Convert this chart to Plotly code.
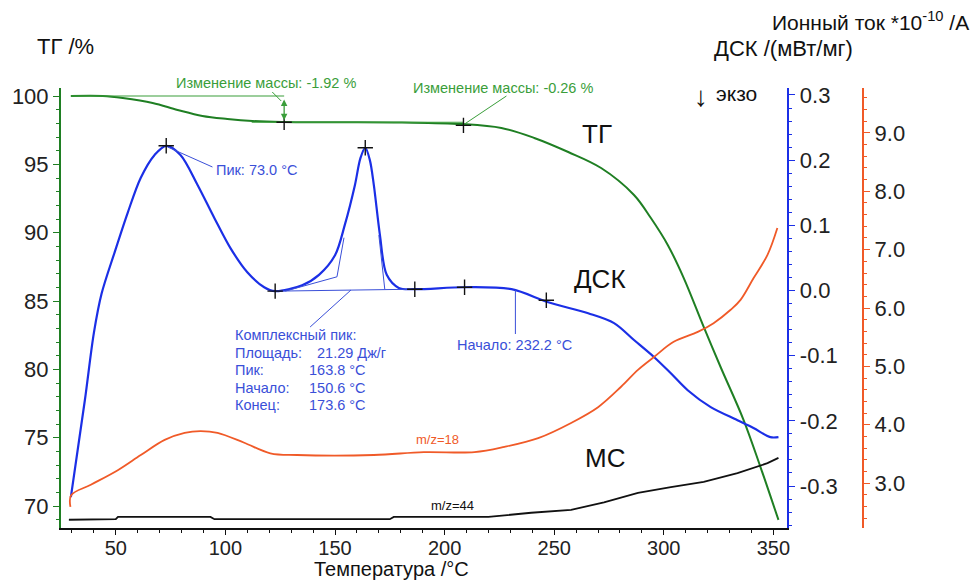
import plotly.graph_objects as go

# ---------------- data ----------------
tg_t = [29.5, 44.1, 53.2, 66.8, 78.2, 89.5, 100.9, 112.3, 125.9, 150.0, 180.5, 207.7, 225.9, 240.9,
        256.4, 271.4, 286.4, 294.1, 301.8, 309.1, 318.2, 325.9, 336.4, 344.1, 352.3]
tg_v = [100.0, 100.0, 99.85, 99.49, 98.98, 98.54, 98.32, 98.17, 98.10, 98.08, 98.06, 97.95, 97.66, 96.93,
        95.90, 94.73, 92.76, 91.07, 89.10, 86.68, 83.10, 80.17, 76.29, 72.85, 68.98]

dsc_t = [29.5, 35.9, 40.0, 43.5, 49.5, 55.5, 61.4, 67.7, 73.0, 79.5, 87.3, 95.0, 102.3, 110.0, 117.7, 122.7,
         135.0, 142.7, 150.0, 154.5, 159.1, 161.6, 163.8, 165.9, 167.7, 170.5, 173.6, 179.1, 186.4, 209.1,
         230.5, 247.3, 265.5, 277.3, 286.4, 295.5, 303.2, 310.9, 321.4, 333.6, 340.9, 348.6, 352.3]
dsc_v = [-0.317, -0.168, -0.065, -0.005, 0.059, 0.120, 0.173, 0.208, 0.222, 0.208, 0.162, 0.111, 0.065, 0.028, 0.005, -0.001,
         0.008, 0.024, 0.054, 0.101, 0.162, 0.203, 0.219, 0.200, 0.162, 0.085, 0.024, 0.004, 0.002, 0.005,
         0.002, -0.018, -0.035, -0.050, -0.076, -0.102, -0.127, -0.153, -0.179, -0.199, -0.211, -0.225, -0.225]

ms18_t = [29.3, 29.6, 38.6, 50.9, 61.4, 72.3, 81.4, 88.6, 96.4, 108.6, 120.5, 132.7, 167.7, 190.5, 213.6,
          227.3, 242.7, 257.7, 270.0, 280.5, 288.2, 295.5, 304.5, 315.5, 322.7, 330.5, 335.0, 340.9, 347.3, 351.8]
ms18_v = [2.59, 2.79, 2.97, 3.22, 3.48, 3.74, 3.86, 3.89, 3.86, 3.69, 3.51, 3.48, 3.48, 3.53, 3.53,
          3.62, 3.77, 4.03, 4.30, 4.65, 4.94, 5.16, 5.42, 5.59, 5.74, 5.97, 6.14, 6.51, 6.91, 7.37]

ms44_t = [28.6, 50.0, 51.0, 93.2, 95.0, 175.0, 176.8, 220.0, 239.5, 257.7, 272.7, 288.2, 303.2, 318.2,
          333.6, 340.9, 347.3, 352.3]
ms44_v = [2.37, 2.38, 2.42, 2.42, 2.38, 2.38, 2.42, 2.42, 2.49, 2.54, 2.67, 2.83, 2.93, 3.02,
          3.17, 3.26, 3.34, 3.43]

# evaluation markers
tg_mark_t = [126.8, 208.6]
tg_mark_v = [98.08, 97.85]
dsc_mark_t = [73.0, 122.7, 163.8, 186.4, 209.1, 246.4]
dsc_mark_v = [0.222, -0.001, 0.219, 0.002, 0.005, -0.015]

# mass-change evaluation
mass_start = 100.0
mass_after = 98.08
mass_step_t = 126.8

# complex-peak construction lines (T, DSC)
cp_base_t = [122.7, 186.4]
cp_base_v = [-0.001, 0.002]
cp_onset_t = [127.3, 150.9, 154.1]
cp_onset_v = [-0.001, 0.021, 0.081]
cp_end_t = [172.7, 170.0]
cp_end_v = [0.002, 0.085]

tg_ticks = [70, 75, 80, 85, 90, 95, 100]
dsc_ticks = [-0.3, -0.2, -0.1, 0.0, 0.1, 0.2, 0.3]
dsc_ticktext = ["-0.3", "-0.2", "-0.1", "0.0", "0.1", "0.2", "0.3"]
ms_ticks = [3, 4, 5, 6, 7, 8, 9]
ms_ticktext = ["3.0", "4.0", "5.0", "6.0", "7.0", "8.0", "9.0"]

# ---------------- layout helpers ----------------
W, H = 974, 582
ML, MR, MT, MB = 58, 60, 88, 54
PW = W - ML - MR
PH = H - MT - MB


def px(x):
    return (x - ML) / PW


def py(y):
    return (H - MB - y) / PH


GREEN = "#1f7f23"
GREEN_T = "#3a9e3a"
BLUE = "#1b2fe6"
BLUE_T = "#3a4fd8"
ORANGE = "#f05a28"
FONT = "Liberation Sans, Arial, sans-serif"

fig = go.Figure()

fig.add_trace(go.Scatter(x=tg_t, y=tg_v, yaxis="y", mode="lines",
                         line=dict(color=GREEN, width=2, shape="spline", smoothing=1.0)))
fig.add_trace(go.Scatter(x=dsc_t, y=dsc_v, yaxis="y2", mode="lines",
                         line=dict(color=BLUE, width=2.2, shape="spline", smoothing=0.9)))
fig.add_trace(go.Scatter(x=ms18_t, y=ms18_v, yaxis="y3", mode="lines",
                         line=dict(color=ORANGE, width=1.8, shape="spline", smoothing=1.0)))
fig.add_trace(go.Scatter(x=ms44_t, y=ms44_v, yaxis="y3", mode="lines",
                         line=dict(color="#111111", width=1.8)))

# construction lines for complex peak
for tt, vv in [(cp_base_t, cp_base_v), (cp_onset_t, cp_onset_v), (cp_end_t, cp_end_v)]:
    fig.add_trace(go.Scatter(x=tt, y=vv, yaxis="y2", mode="lines",
                             line=dict(color=BLUE_T, width=1)))

# TG reference lines
fig.add_trace(go.Scatter(x=[tg_t[0], mass_step_t], y=[mass_start, mass_start], yaxis="y", mode="lines",
                         line=dict(color=GREEN_T, width=1.2)))
fig.add_trace(go.Scatter(x=[112.0, tg_mark_t[1]], y=[mass_after, mass_after], yaxis="y", mode="lines",
                         line=dict(color=GREEN_T, width=1.2)))

# markers
fig.add_trace(go.Scatter(x=tg_mark_t, y=tg_mark_v, yaxis="y", mode="markers",
                         marker=dict(symbol="cross-thin", size=11, line=dict(color="#111", width=1.4))))
fig.add_trace(go.Scatter(x=dsc_mark_t, y=dsc_mark_v, yaxis="y2", mode="markers",
                         marker=dict(symbol="cross-thin", size=11, line=dict(color="#111", width=1.4))))

tickfont = dict(family=FONT, size=22, color="#222")

fig.update_layout(
    width=W, height=H,
    margin=dict(l=ML, r=MR, t=MT, b=MB),
    paper_bgcolor="white", plot_bgcolor="white",
    showlegend=False,
    font=dict(family=FONT),
    xaxis=dict(domain=[0, px(787)], range=[25.0, 356.4], showgrid=False, zeroline=False,
               showline=True, linecolor="#111", linewidth=1.5,
               ticks="outside", ticklen=5, tickcolor="#111", tick0=0, dtick=50,
               ticklabelstandoff=-4,
               minor=dict(dtick=10, tick0=0, ticks="outside", ticklen=3, tickcolor="#111"),
               tickfont=dict(family=FONT, size=20, color="#222")),
    yaxis=dict(range=[68.39, 100.585], showgrid=False, zeroline=False,
               showline=True, linecolor=GREEN, linewidth=2,
               tickmode="array", tickvals=tg_ticks,
               ticks="outside", ticklen=6, tickcolor=GREEN,
               minor=dict(dtick=1, tick0=0, ticks="outside", ticklen=3, tickcolor=GREEN),
               tickfont=tickfont),
    yaxis2=dict(range=[-0.3644, 0.3107], overlaying="y", side="right", anchor="x",
                showgrid=False, zeroline=False,
                showline=True, linecolor=BLUE, linewidth=2,
                tickmode="array", tickvals=dsc_ticks, ticktext=dsc_ticktext,
                ticks="outside", ticklen=6, tickcolor=BLUE,
                minor=dict(dtick=0.02, tick0=0, ticks="outside", ticklen=3, tickcolor=BLUE),
                tickfont=tickfont),
    yaxis3=dict(range=[2.229, 9.771], overlaying="y", side="right", anchor="free",
                position=px(863), showgrid=False, zeroline=False,
                showline=True, linecolor=ORANGE, linewidth=2,
                tickmode="array", tickvals=ms_ticks, ticktext=ms_ticktext,
                ticks="outside", ticklen=6, tickcolor=ORANGE,
                minor=dict(dtick=0.2, tick0=0, ticks="outside", ticklen=3, tickcolor=ORANGE),
                tickfont=tickfont),
)

ann = []


def text(s, x, y, size=14, color="#111", xanchor="left"):
    ann.append(dict(text=s, x=px(x), y=py(y), xref="paper", yref="paper", showarrow=False,
                    xanchor=xanchor, yanchor="middle", font=dict(family=FONT, size=size, color=color)))


SMALL = 14.5
text("ТГ /%", 32, 47, 22)
text("Ионный ток *10<sup>-10</sup> /A", 971, 21, 21, xanchor="right")
text("ДСК /(мВт/мг)", 711, 48, 22)
text("↓", 691, 96, 28)
text("экзо", 713, 93, 21)
text("Температура /°C", 390, 569, 20, xanchor="center")
text("ТГ", 579, 134, 26)
text("ДСК", 571, 279, 26)
text("МС", 582, 458, 26)
text("m/z=18", 412, 439, 13, ORANGE)
text("m/z=44", 427, 505, 13, "#111")
text("Изменение массы: -1.92 %", 171, 83, SMALL, GREEN_T)
text("Изменение массы: -0.26 %", 409, 88, SMALL, GREEN_T)
text("Пик: 73.0 °C", 212, 170, SMALL, BLUE_T)
text("Начало: 232.2 °C", 453, 345, SMALL, BLUE_T)
text("Комплексный пик:", 231, 335, SMALL, BLUE_T)
text("Площадь:", 231, 353, SMALL, BLUE_T)
text("21.29 Дж/г", 313, 353, SMALL, BLUE_T)
text("Пик:", 231, 370, SMALL, BLUE_T)
text("163.8 °C", 305, 370, SMALL, BLUE_T)
text("Начало:", 231, 388, SMALL, BLUE_T)
text("150.6 °C", 305, 388, SMALL, BLUE_T)
text("Конец:", 231, 405, SMALL, BLUE_T)
text("173.6 °C", 305, 405, SMALL, BLUE_T)

# double arrow for mass change
ann.append(dict(x=mass_step_t, y=mass_after + 0.15, xref="x", yref="y",
                ax=mass_step_t, ay=mass_start - 0.15, axref="x", ayref="y",
                text="", showarrow=True, arrowhead=2, arrowsize=1, arrowwidth=1.3,
                arrowside="end+start", arrowcolor=GREEN_T))
fig.update_layout(annotations=ann)

# leader lines (decorative)
shapes = []


def seg(x0, y0, x1, y1, color, w=1):
    shapes.append(dict(type="line", xref="paper", yref="paper", x0=px(x0), y0=py(y0), x1=px(x1), y1=py(y1),
                       line=dict(color=color, width=w)))


seg(270, 92, 279, 101, GREEN_T)
seg(463, 124, 505, 96, GREEN_T)
seg(165, 147, 210, 167, BLUE_T)
seg(308, 327, 349, 290, BLUE_T)
seg(514, 290, 514, 334, BLUE_T)
fig.update_layout(shapes=shapes)

fig.write_html("out.html")
